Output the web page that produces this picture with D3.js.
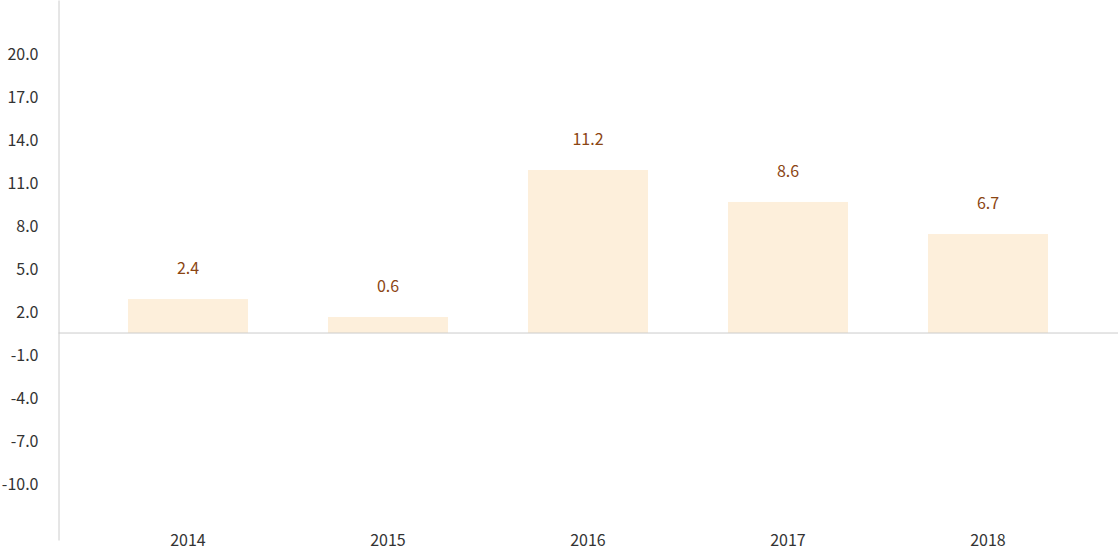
<!DOCTYPE html>
<html>
<head>
<meta charset="utf-8">
<script src="https://cdn.jsdelivr.net/npm/d3@7"></script>
<style>
  body { margin: 0; background: #fff; }
  svg { display: block; font-family: 'Noto Sans CJK SC', 'Noto Sans', sans-serif; }
</style>
</head>
<body>
<div id="chart"></div>
<script>
const years = ['2014', '2015', '2016', '2017', '2018'];
// bar heights
const barValues = [2.37, 1.12, 11.38, 9.15, 6.91];
// numbers printed above the bars
const labelValues = ['2.4', '0.6', '11.2', '8.6', '6.7'];
const yTicks = [-10.5, -7.5, -4.5, -1.5, 1.5, 4.5, 7.5, 10.5, 13.5, 16.5, 19.5];
const yTickLabels = ['-10.0', '-7.0', '-4.0', '-1.0', '2.0', '5.0', '8.0', '11.0', '14.0', '17.0', '20.0'];

const width = 1118;
const height = 551;
const margin = { top: 0, right: 0, bottom: 11, left: 58.5 };

const svg = d3
  .select('#chart')
  .append('svg')
  .attr('width', width)
  .attr('height', height);

const xScale = d3
  .scaleBand()
  .domain(years)
  .range([88, 1088])
  .paddingInner(0.4)
  .paddingOuter(0.2);

const yScale = d3
  .scaleLinear()
  .domain([-14.45, 23.25])
  .range([height - margin.bottom, margin.top]);

// y axis: line + labels only
const yAxis = svg
  .append('g')
  .attr('transform', `translate(${margin.left},0)`)
  .call(
    d3
      .axisLeft(yScale)
      .tickValues(yTicks)
      .tickSize(0)
      .tickPadding(20)
      .tickFormat((d, i) => yTickLabels[i]),
  )
  .attr('font-family', null)
  .attr('font-size', null);
yAxis.select('.domain').attr('stroke', '#ccc');
yAxis
  .selectAll('text')
  .attr('fill', '#333')
  .attr('font-size', '16px')
  .attr('dy', '0.35em');

// bars
svg
  .append('g')
  .selectAll('rect')
  .data(years)
  .enter()
  .append('rect')
  .attr('x', (d) => xScale(d))
  .attr('width', xScale.bandwidth())
  .attr('y', (d, i) => yScale(barValues[i]))
  .attr('height', (d, i) => yScale(0) - yScale(barValues[i]))
  .attr('fill', '#fdefdb');

// zero line
svg
  .append('line')
  .attr('x1', margin.left)
  .attr('x2', width)
  .attr('y1', yScale(0))
  .attr('y2', yScale(0))
  .attr('stroke', '#ccc');

// value labels
svg
  .append('g')
  .selectAll('text')
  .data(years)
  .enter()
  .append('text')
  .attr('x', (d) => xScale(d) + xScale.bandwidth() / 2)
  .attr('y', (d, i) => yScale(barValues[i]) - 31)
  .attr('dy', '0.35em')
  .attr('text-anchor', 'middle')
  .attr('font-size', '16px')
  .attr('fill', '#8b4513')
  .text((d, i) => labelValues[i]);

// x axis labels
const xAxis = svg
  .append('g')
  .attr('transform', `translate(0,${height - margin.bottom})`)
  .call(d3.axisBottom(xScale).tickSize(0).tickPadding(0))
  .attr('font-family', null)
  .attr('font-size', null);
xAxis.select('.domain').remove();
xAxis
  .selectAll('text')
  .attr('fill', '#333')
  .attr('font-size', '16px')
  .attr('dy', '0.35em');
</script>
</body>
</html>
